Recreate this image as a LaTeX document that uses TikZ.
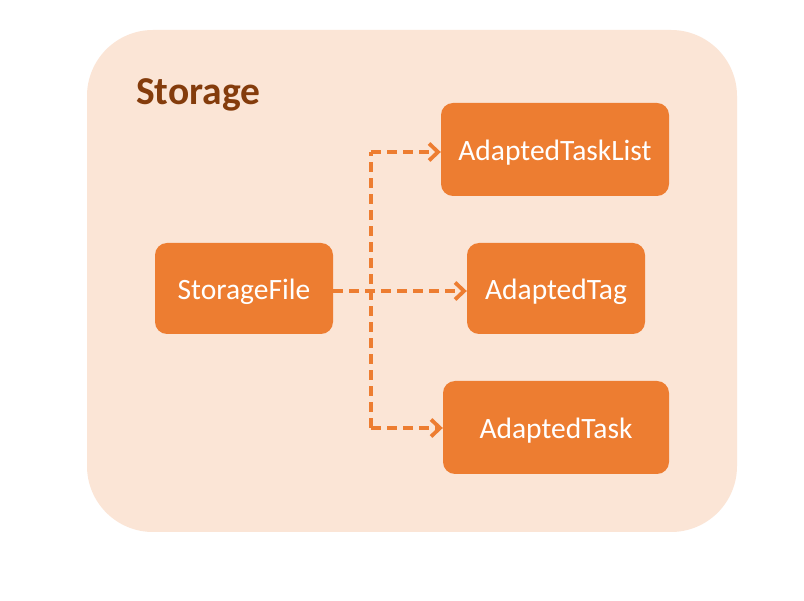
\documentclass[tikz,border=0pt]{standalone}
\usepackage{fontspec}
\setmainfont{Carlito}
\usetikzlibrary{arrows.meta}
\definecolor{boxorange}{HTML}{ED7D31}
\definecolor{paleorange}{HTML}{FBE5D6}
\definecolor{titlebrown}{HTML}{843C0C}
\tikzset{
  classbox/.style={draw=none, fill=boxorange, rounded corners=12pt, inner sep=0pt, anchor=center},
  classtext/.style={text=white, font=\fontsize{29.5}{31}\selectfont, inner sep=0pt},
  dep/.style={draw=boxorange, line width=4.2pt, dash pattern=on 10pt off 6pt,
    -{Straight Barb[length=9pt,width=17pt,line width=3.8pt]}},
  depline/.style={draw=boxorange, line width=4.2pt, dash pattern=on 10pt off 6pt}
}
\begin{document}
\begin{tikzpicture}[x=1pt,y=-1pt]
\useasboundingbox (0,0) rectangle (804,601);
\fill[white] (0,0) rectangle (804,601);
\fill[paleorange, rounded corners=66pt] (87,30) rectangle (737,532);
\node[anchor=base west, text=titlebrown, font=\fontsize{39.5}{41}\selectfont\bfseries, inner sep=0pt] (title) at (136,105) {Storage};

\node[classbox, minimum width=178pt, minimum height=91pt] (sf) at (244,288.5) {};
\node[classbox, minimum width=228pt, minimum height=93pt] (atl) at (555,149.5) {};
\node[classbox, minimum width=178pt, minimum height=91pt] (atag) at (556,288.5) {};
\node[classbox, minimum width=226pt, minimum height=93pt] (at) at (556,427.5) {};
\node[classtext] (sft) at (244,292) {StorageFile};
\node[classtext] (atlt) at (555,153) {AdaptedTaskList};
\node[classtext] (atagt) at (556,292) {AdaptedTag};
\node[classtext] (att) at (556,431) {AdaptedTask};

\coordinate (jt) at (371,152);
\coordinate (jb) at (371,428);
\draw[depline] (jb) -- (jt);
\draw[dep] (jt) -- (jt -| atl.west);
\draw[dep] (jb) -- (jb -| at.west);
\draw[dep] (sf.east |- 0,291) -- (atag.west |- 0,291);
\end{tikzpicture}
\end{document}
